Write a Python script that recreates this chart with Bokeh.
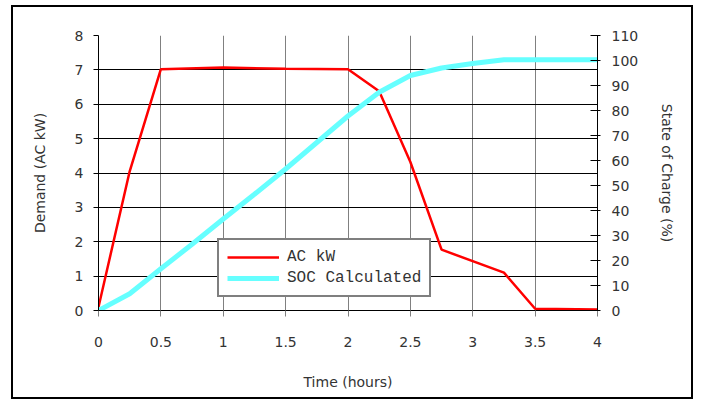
from bokeh.plotting import figure
from bokeh.models import Range1d, LinearAxis, FixedTicker, Legend, LegendItem
from bokeh.embed import file_html
from bokeh.resources import INLINE

# ---- data ----
ac_hours = [0, 0.25, 0.5, 1.0, 1.5, 2.0, 2.25, 2.5, 2.75, 3.25, 3.5, 4.0]
ac_kw = [0.1, 4.05, 7.02, 7.07, 7.03, 7.02, 6.38, 4.32, 1.77, 1.1, 0.05, 0.03]

soc_hours = [0, 0.25, 0.5, 0.75, 1.0, 1.25, 1.5, 1.75, 2.0, 2.25, 2.5, 2.75, 3.0, 3.25, 3.5, 4.0]
soc_pct = [0, 6.7, 16.7, 26.5, 36.6, 46.5, 56.6, 67.2, 77.8, 87.3, 94.0, 97.0, 98.8, 100.3, 100.3, 100.3]

x_ticks = [0, 0.5, 1, 1.5, 2, 2.5, 3, 3.5, 4]
x_tick_labels = ["0", "0.5", "1", "1.5", "2", "2.5", "3", "3.5", "4"]
left_ticks = [0, 1, 2, 3, 4, 5, 6, 7, 8]
right_ticks = [0, 10, 20, 30, 40, 50, 60, 70, 80, 90, 100, 110]

FONT = "DejaVu Sans"
TXT = "#333333"

p = figure(width=682, height=394, output_backend="svg", toolbar_location=None,
           x_range=Range1d(0, 4), y_range=Range1d(0, 8),
           min_border_left=85, min_border_right=98, min_border_top=28, min_border_bottom=91,
           outline_line_color=None, background_fill_color="white", border_fill_color="white")
p.styles = {"border": "2px solid black"}
p.margin = (5, 0, 0, 11)

p.extra_y_ranges = {"soc": Range1d(0, 110)}

# grids
p.xgrid.ticker = FixedTicker(ticks=x_ticks)
p.xgrid.grid_line_color = "#808080"
p.xgrid.grid_line_width = 1
p.ygrid.ticker = FixedTicker(ticks=left_ticks[:-1])
p.ygrid.grid_line_color = "black"
p.ygrid.grid_line_width = 1

# x axis
xa = p.xaxis[0]
xa.ticker = FixedTicker(ticks=x_ticks)
xa.major_label_overrides = {t: l for t, l in zip(x_ticks, x_tick_labels)}
xa.minor_tick_line_color = None
xa.major_tick_in = 0
xa.major_tick_out = 6
xa.major_tick_line_color = "#808080"
xa.axis_line_color = "black"
xa.major_label_standoff = 20
xa.major_label_text_font = FONT
xa.major_label_text_font_size = "14px"
xa.major_label_text_color = TXT
xa.axis_label = "Time (hours)"
xa.axis_label_text_font = FONT
xa.axis_label_text_font_size = "14px"
xa.axis_label_text_font_style = "normal"
xa.axis_label_text_color = TXT
xa.axis_label_standoff = 24

# left axis
ya = p.yaxis[0]
ya.ticker = FixedTicker(ticks=left_ticks)
ya.minor_tick_line_color = None
ya.major_tick_in = 0
ya.major_tick_out = 5
ya.major_tick_line_color = "black"
ya.axis_line_color = "black"
ya.major_label_standoff = 10
ya.major_label_text_font = FONT
ya.major_label_text_font_size = "14px"
ya.major_label_text_color = TXT
ya.axis_label = "Demand (AC kW)"
ya.axis_label_text_font = FONT
ya.axis_label_text_font_size = "14px"
ya.axis_label_text_font_style = "normal"
ya.axis_label_text_color = TXT
ya.axis_label_standoff = 24

# right axis
ra = LinearAxis(y_range_name="soc", ticker=FixedTicker(ticks=right_ticks))
ra.minor_tick_line_color = None
ra.major_tick_in = 7
ra.major_tick_out = 3
ra.major_tick_line_color = "black"
ra.axis_line_color = "black"
ra.major_label_standoff = 11
ra.major_label_text_font = FONT
ra.major_label_text_font_size = "14px"
ra.major_label_text_color = TXT
ra.axis_label = "State of Charge (%)"
ra.axis_label_text_font = FONT
ra.axis_label_text_font_size = "14px"
ra.axis_label_text_font_style = "normal"
ra.axis_label_text_color = TXT
ra.axis_label_standoff = 18
p.add_layout(ra, "right")

# lines
r_ac = p.line(ac_hours, ac_kw, line_color="#FF0000", line_width=2.5)
r_soc = p.line(soc_hours, soc_pct, y_range_name="soc", line_color="#66FFFF", line_width=5)

legend = Legend(items=[LegendItem(label="AC kW", renderers=[r_ac]),
                       LegendItem(label="SOC Calculated", renderers=[r_soc])],
                location=(119, 13))
legend.border_line_color = "black"
legend.border_line_width = 2
legend.background_fill_color = "white"
legend.background_fill_alpha = 1
legend.label_text_font = "Liberation Mono"
legend.label_text_font_size = "16px"
legend.label_text_color = TXT
legend.glyph_width = 52
legend.glyph_height = 18
legend.label_height = 18
legend.spacing = 3
legend.padding = 8
legend.margin = 0
legend.label_standoff = 8
p.add_layout(legend, "center")

open("out.html", "w").write(file_html(p, INLINE))
